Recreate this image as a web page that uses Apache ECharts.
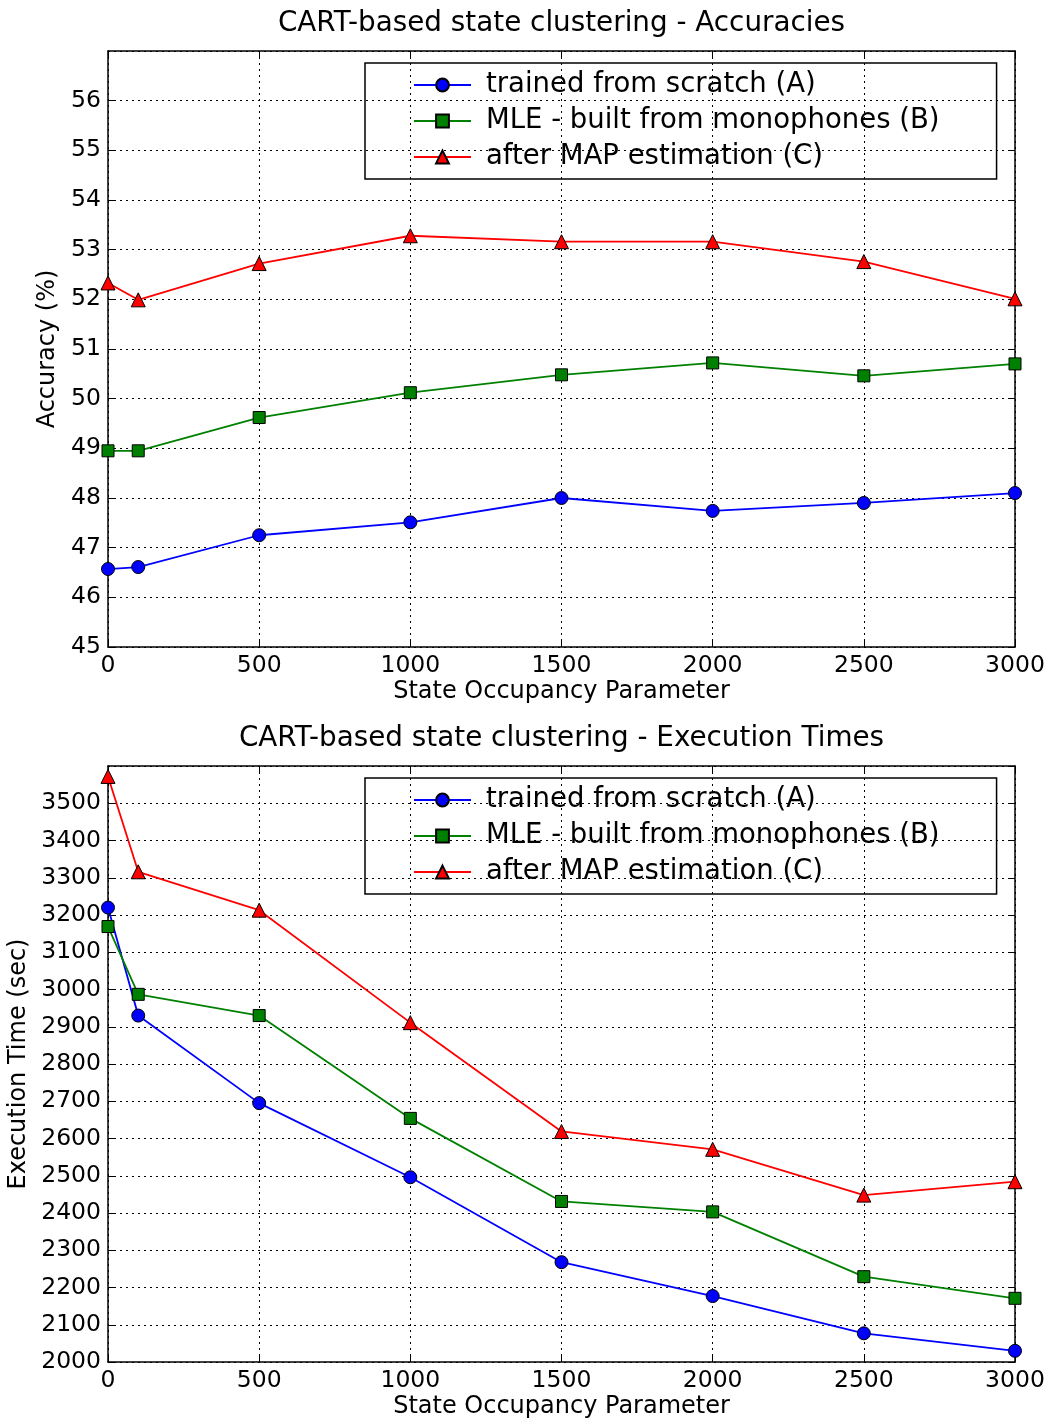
<!DOCTYPE html>
<html>
<head>
<meta charset="utf-8">
<script src="https://cdn.jsdelivr.net/npm/echarts@6/dist/echarts.min.js"></script>
<style>
  html, body { margin: 0; padding: 0; background: #fff; }
  #main { width: 1049px; height: 1420px; }
</style>
</head>
<body>
<div id="main"></div>
<script>
// state occupancy parameter values (x)
const occupancy = [0, 100, 500, 1000, 1500, 2000, 2500, 3000]

// accuracies (%)
const accScratch = [46.57, 46.61, 47.25, 47.51, 48.0, 47.74, 47.90, 48.10]
const accMle = [48.95, 48.95, 49.62, 50.12, 50.48, 50.72, 50.46, 50.70]
const accMap = [52.33, 51.99, 52.72, 53.28, 53.16, 53.16, 52.76, 52.01]

// execution times (sec)
const timeScratch = [3220, 2930, 2695, 2496, 2268, 2177, 2077, 2030]
const timeMle = [3169, 2987, 2930, 2654, 2431, 2403, 2229, 2171]
const timeMap = [3572, 3316, 3213, 2911, 2619, 2571, 2448, 2484]

const seriesNames = ['trained from scratch (A)', 'MLE - built from monophones (B)', 'after MAP estimation (C)']
const titles = ['CART-based state clustering - Accuracies', 'CART-based state clustering - Execution Times']

const FONT = 'DejaVu Sans'
const colors = ['#0000ff', '#008000', '#ff0000']
const symbols = ['circle', 'rect', 'triangle']
const symbolSizes = [13, 12, 14]

const chart = echarts.init(document.getElementById('main'), null, { renderer: 'canvas' })

const plain = (v) => String(v) // 不要千分位

// 坐标轴公共样式（matplotlib 风格，刻度朝内）
const axisCommon = (extra) => Object.assign({
  axisLine: { show: true, onZero: false, lineStyle: { color: '#000', width: 1.5 } },
  axisTick: { show: true, inside: true, length: 6, lineStyle: { color: '#000', width: 1 } },
  axisLabel: { color: '#000', fontFamily: FONT, fontSize: 23.5 },
  nameTextStyle: { color: '#000', fontFamily: FONT, fontSize: 24 }
}, extra)

const gridSplit = { show: true, lineStyle: { color: '#000', type: [2, 4], width: 1 } }

const makeX = (gi) => [
  axisCommon({
    type: 'value', gridIndex: gi, min: 0, max: 3000, interval: 500, position: 'bottom',
    name: 'State Occupancy Parameter', nameLocation: 'middle', nameGap: 33,
    axisLabel: { color: '#000', fontFamily: FONT, fontSize: 23.5, margin: 7, formatter: plain },
    splitLine: gridSplit
  }),
  axisCommon({
    type: 'value', gridIndex: gi, min: 0, max: 3000, interval: 500, position: 'top',
    axisLabel: { show: false }, splitLine: { show: false }
  })
]

const makeY = (gi, min, max, interval, name, gap) => [
  axisCommon({
    type: 'value', gridIndex: gi, min: min, max: max, interval: interval, position: 'left',
    name: name, nameLocation: 'middle', nameGap: gap,
    axisLabel: { color: '#000', fontFamily: FONT, fontSize: 23.5, margin: 7, showMaxLabel: false, formatter: plain },
    splitLine: gridSplit
  }),
  axisCommon({
    type: 'value', gridIndex: gi, min: min, max: max, interval: interval, position: 'right',
    axisLabel: { show: false }, splitLine: { show: false }
  })
]

const makeSeries = (values, idx, axisIdx) => ({
  name: seriesNames[idx],
  type: 'line',
  xAxisIndex: axisIdx,
  yAxisIndex: axisIdx,
  data: occupancy.map((x, i) => [x, values[i]]),
  symbol: symbols[idx],
  symbolSize: symbolSizes[idx],
  showAllSymbol: true,
  clip: false,
  animation: false,
  lineStyle: { color: colors[idx], width: 1.8 },
  itemStyle: { color: colors[idx], borderColor: '#000', borderWidth: 1 }
})

const makeLegend = (top) => ({
  left: 365,
  top: top,
  orient: 'vertical',
  data: seriesNames,
  borderColor: '#000',
  borderWidth: 1.5,
  padding: [8, 57, 8, 48],
  itemGap: 8,
  itemWidth: 57,
  itemHeight: 16,
  selectedMode: false,
  textStyle: { color: '#000', fontFamily: FONT, fontSize: 27.5, lineHeight: 28, padding: [0, 0, 0, 10] }
})

const option = {
  backgroundColor: '#fff',
  animation: false,
  title: [
    { text: titles[0], left: 561.5, top: 10, textAlign: 'center', padding: 0,
      textStyle: { color: '#000', fontFamily: FONT, fontSize: 27.8, fontWeight: 'normal' } },
    { text: titles[1], left: 561.5, top: 725, textAlign: 'center', padding: 0,
      textStyle: { color: '#000', fontFamily: FONT, fontSize: 27.8, fontWeight: 'normal' } }
  ],
  legend: [makeLegend(63), makeLegend(778)],
  grid: [
    { left: 108, top: 51, width: 907, height: 596, containLabel: false, outerBoundsMode: 'none' },
    { left: 108, top: 766, width: 907, height: 596, containLabel: false, outerBoundsMode: 'none' }
  ],
  xAxis: [...makeX(0), ...makeX(1)],
  yAxis: [
    ...makeY(0, 45, 57, 1, 'Accuracy (%)', 44),
    ...makeY(1, 2000, 3600, 100, 'Execution Time (sec)', 75)
  ],
  series: [
    makeSeries(accScratch, 0, 0),
    makeSeries(accMle, 1, 0),
    makeSeries(accMap, 2, 0),
    makeSeries(timeScratch, 0, 2),
    makeSeries(timeMle, 1, 2),
    makeSeries(timeMap, 2, 2)
  ]
}

chart.setOption(option)
</script>
</body>
</html>
